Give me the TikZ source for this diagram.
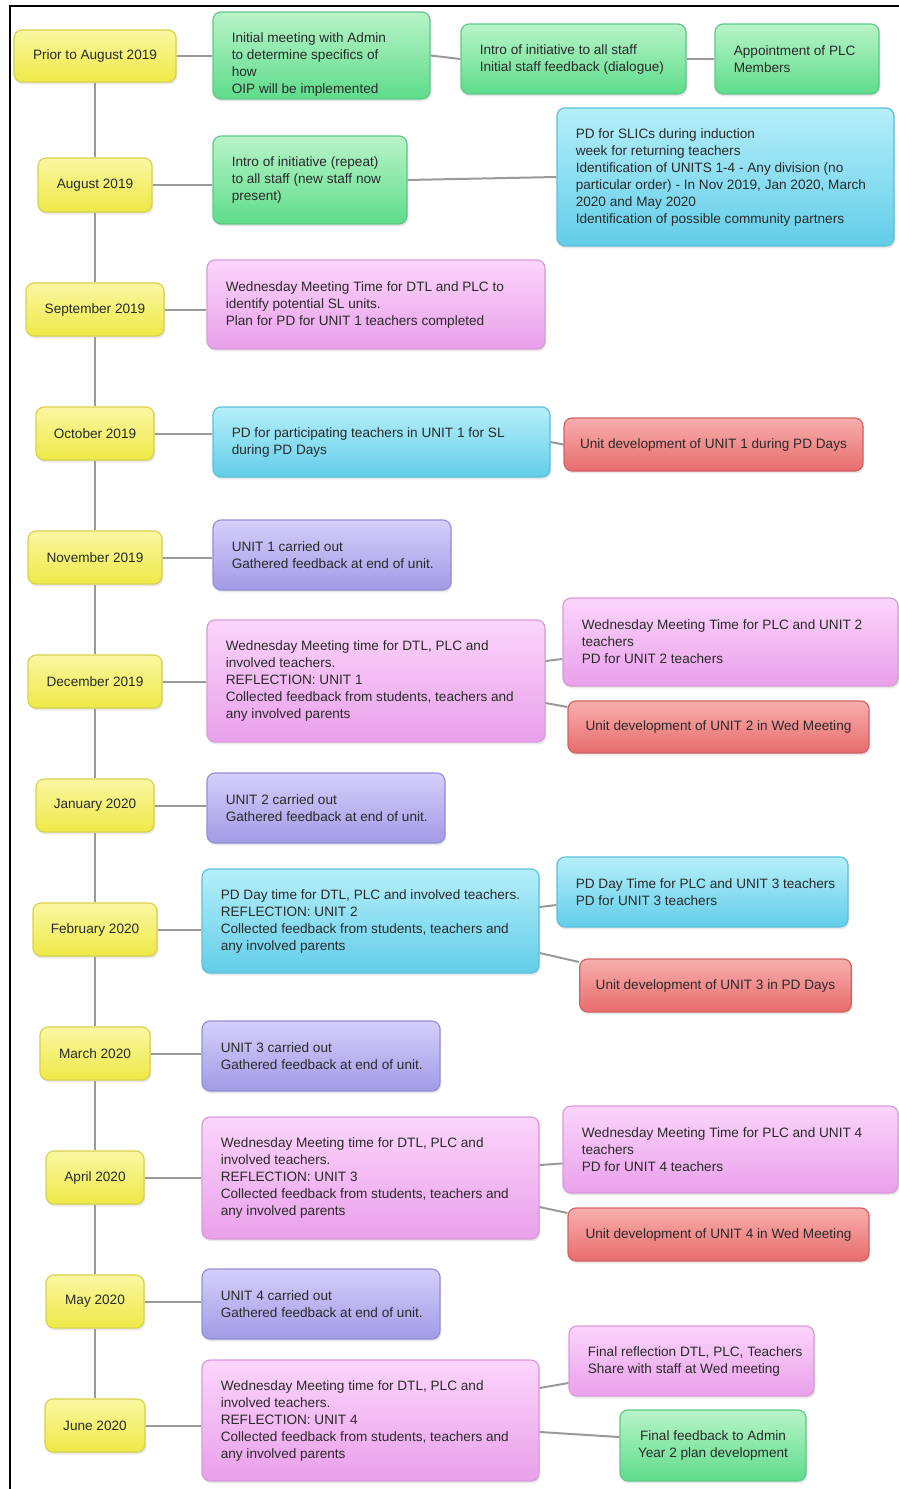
\documentclass[tikz,border=0pt]{standalone}
\usepackage{fontspec}
\setmainfont{Liberation Sans}
\usetikzlibrary{shadows}
\definecolor{txt}{HTML}{2A2A2A}
\definecolor{conncol}{HTML}{9A9A9A}
\definecolor{yT}{HTML}{FAF7A2}\definecolor{yB}{HTML}{EEE946}\definecolor{yD}{HTML}{D8D14A}
\definecolor{gT}{HTML}{B8F4C8}\definecolor{gB}{HTML}{5EDC8B}\definecolor{gD}{HTML}{5FC887}
\definecolor{bT}{HTML}{B6EFFA}\definecolor{bB}{HTML}{62CDE8}\definecolor{bD}{HTML}{5BC0DB}
\definecolor{pT}{HTML}{FBD5FB}\definecolor{pB}{HTML}{E9A0EA}\definecolor{pD}{HTML}{D79AD9}
\definecolor{vT}{HTML}{D4D0FA}\definecolor{vB}{HTML}{A29AE6}\definecolor{vD}{HTML}{948ED6}
\definecolor{rT}{HTML}{F8AEAE}\definecolor{rB}{HTML}{E86C6C}\definecolor{rD}{HTML}{D26262}
% box with left-aligned text at a fixed left margin (#8 = vertical text shift)
\newcommand\mkbox[8][0pt]{%
  \pgfmathsetmacro\bxX{(#4+#6)/2}%
  \pgfmathsetmacro\bxY{(#5+#7)/2}%
  \pgfmathsetmacro\bxW{(#6-#4)*0.5}%
  \pgfmathsetmacro\bxH{(#7-#5)*0.5}%
  \node[#2, minimum width=\bxW pt, minimum height=\bxH pt] (#3) at (\bxX,\bxY) {};
  \node[boxtext, anchor=west] (#3t) at ([xshift=9.5pt, yshift=#1]#3.west) {#8};}
% box with centred text
\newcommand\mkcbox[7]{%
  \pgfmathsetmacro\bxX{(#3+#5)/2}%
  \pgfmathsetmacro\bxY{(#4+#6)/2}%
  \pgfmathsetmacro\bxW{(#5-#3)*0.5}%
  \pgfmathsetmacro\bxH{(#6-#4)*0.5}%
  \node[#1, boxtext, align=center, inner xsep=8pt, minimum width=\bxW pt, minimum height=\bxH pt] (#2) at (\bxX,\bxY) {#7};}
\tikzset{
  boxtext/.style={inner sep=0pt, font=\fontsize{6.8}{8.5}\selectfont, text=txt, align=left},
  base/.style={rounded corners=4pt, line width=0.6pt, inner sep=0pt,
    drop shadow={opacity=0.18, shadow xshift=0.6pt, shadow yshift=-1.2pt}},
  datebox/.style={base, top color=yT, bottom color=yB, draw=yD},
  greenbox/.style={base, top color=gT, bottom color=gB, draw=gD},
  bluebox/.style={base, top color=bT, bottom color=bB, draw=bD},
  pinkbox/.style={base, top color=pT, bottom color=pB, draw=pD},
  violetbox/.style={base, top color=vT, bottom color=vB, draw=vD},
  redbox/.style={base, top color=rT, bottom color=rB, draw=rD},
  conn/.style={draw=conncol, line width=1pt},
  frameline/.style={draw=black, line width=1.2pt}
}
\begin{document}
\begin{tikzpicture}[x=0.5pt, y=-0.5pt]
\useasboundingbox (0,0) rectangle (899,1489);
\draw[frameline] (10,1489) coordinate (fa) -- (10,6) coordinate (fb) -- (899,6) coordinate (fc);

% date boxes
\mkcbox{datebox}{d1}{14}{30}{176}{82}{Prior to August 2019}
\mkcbox{datebox}{d2}{38}{158}{152}{212}{August 2019}
\mkcbox{datebox}{d3}{26}{283}{164}{336}{September 2019}
\mkcbox{datebox}{d4}{36}{407}{154}{460}{October 2019}
\mkcbox{datebox}{d5}{28}{531}{162}{584}{November 2019}
\mkcbox{datebox}{d6}{28}{655}{162}{708}{December 2019}
\mkcbox{datebox}{d7}{36}{779}{154}{832}{January 2020}
\mkcbox{datebox}{d8}{33}{903}{157}{956}{February 2020}
\mkcbox{datebox}{d9}{40}{1027}{150}{1080}{March 2020}
\mkcbox{datebox}{d10}{46}{1151}{144}{1204}{April 2020}
\mkcbox{datebox}{d11}{46}{1275}{144}{1328}{May 2020}
\mkcbox{datebox}{d12}{45}{1399}{145}{1452}{June 2020}

% row 1
\mkbox[-4.5pt]{greenbox}{m1}{213}{12}{430}{99}{Initial meeting with Admin\\to determine specifics of\\how\\OIP will be implemented}
\mkbox{greenbox}{m1b}{461}{24}{686}{94}{Intro of initiative to all staff\\Initial staff feedback (dialogue)}
\mkbox{greenbox}{m1c}{715}{24}{879}{94}{Appointment of PLC\\Members}
% row 2
\mkbox{greenbox}{m2}{213}{136}{407}{224}{Intro of initiative (repeat)\\to all staff (new staff now\\present)}
\mkbox{bluebox}{b2}{557}{108}{894}{246}{PD for SLICs during induction\\week for returning teachers\\Identification of UNITS 1-4 - Any division (no\\particular order) - In Nov 2019, Jan 2020, March\\2020 and May 2020\\Identification of possible community partners}
% row 3
\mkbox{pinkbox}{m3}{207}{260}{545}{349}{Wednesday Meeting Time for DTL and PLC to\\identify potential SL units.\\Plan for PD for UNIT 1 teachers completed}
% row 4
\mkbox{bluebox}{m4}{213}{407}{550}{477}{PD for participating teachers in UNIT 1 for SL\\during PD Days}
\mkcbox{redbox}{r4}{565}{418}{862}{471}{Unit development of UNIT 1 during PD Days}
% row 5
\mkbox{violetbox}{m5}{213}{520}{451}{590}{UNIT 1 carried out\\Gathered feedback at end of unit.}
% row 6
\mkbox{pinkbox}{m6}{207}{620}{545}{742}{Wednesday Meeting time for DTL, PLC and\\involved teachers.\\REFLECTION: UNIT 1\\Collected feedback from students, teachers and\\any involved parents}
\mkbox{pinkbox}{u6}{563}{598}{898}{686}{Wednesday Meeting Time for PLC and UNIT 2\\teachers\\PD for UNIT 2 teachers}
\mkcbox{redbox}{r6}{568}{701}{869}{753}{Unit development of UNIT 2 in Wed Meeting}
% row 7
\mkbox{violetbox}{m7}{207}{773}{445}{843}{UNIT 2 carried out\\Gathered feedback at end of unit.}
% row 8
\mkbox{bluebox}{m8}{202}{869}{539}{973}{PD Day time for DTL, PLC and involved teachers.\\REFLECTION: UNIT 2\\Collected feedback from students, teachers and\\any involved parents}
\mkbox{bluebox}{u8}{557}{857}{848}{927}{PD Day Time for PLC and UNIT 3 teachers\\PD for UNIT 3 teachers}
\mkcbox{redbox}{r8}{580}{959}{851}{1012}{Unit development of UNIT 3 in PD Days}
% row 9
\mkbox{violetbox}{m9}{202}{1021}{440}{1091}{UNIT 3 carried out\\Gathered feedback at end of unit.}
% row 10
\mkbox{pinkbox}{m10}{202}{1117}{539}{1239}{Wednesday Meeting time for DTL, PLC and\\involved teachers.\\REFLECTION: UNIT 3\\Collected feedback from students, teachers and\\any involved parents}
\mkbox{pinkbox}{u10}{563}{1106}{898}{1193}{Wednesday Meeting Time for PLC and UNIT 4\\teachers\\PD for UNIT 4 teachers}
\mkcbox{redbox}{r10}{568}{1208}{869}{1261}{Unit development of UNIT 4 in Wed Meeting}
% row 11
\mkbox{violetbox}{m11}{202}{1269}{440}{1339}{UNIT 4 carried out\\Gathered feedback at end of unit.}
% row 12
\mkbox{pinkbox}{m12}{202}{1360}{539}{1481}{Wednesday Meeting time for DTL, PLC and\\involved teachers.\\REFLECTION: UNIT 4\\Collected feedback from students, teachers and\\any involved parents}
\mkbox{pinkbox}{u12}{569}{1326}{814}{1396}{Final reflection DTL, PLC, Teachers\\Share with staff at Wed meeting}
\mkcbox{greenbox}{g12}{620}{1410}{806}{1481}{Final feedback to Admin\\Year 2 plan development}

% connectors
\foreach \a/\b in {d1/d2,d2/d3,d3/d4,d4/d5,d5/d6,d6/d7,d7/d8,d8/d9,d9/d10,d10/d11,d11/d12}
  \draw[conn] (\a.south) -- (\b.north);
\foreach \i in {1,...,12}
  \draw[conn] (d\i.east) -- (d\i.east -| m\i.west);
\draw[conn] (m1.east) -- (m1b.west);
\draw[conn] (m1b.east) -- (m1c.west);
\draw[conn] (m2.east) -- (b2.west);
\draw[conn] (m4.east) -- (r4.west);
\draw[conn] ([yshift=10pt]m6.east) -- ([yshift=-8.5pt]u6.west);
\draw[conn] ([yshift=-11pt]m6.east) -- ([yshift=10pt]r6.west);
\draw[conn] ([yshift=7pt]m8.east) -- ([yshift=-6.5pt]u8.west);
\draw[conn] ([yshift=-16pt]m8.east) -- ([yshift=11.75pt]r8.west);
\draw[conn] ([yshift=6.5pt]m10.east) -- ([yshift=-7pt]u10.west);
\draw[conn] ([yshift=-14.5pt]m10.east) -- ([yshift=10.75pt]r10.west);
\draw[conn] ([yshift=16.25pt]m12.east) -- ([yshift=-11pt]u12.west);
\draw[conn] ([yshift=-5.75pt]m12.east) -- ([yshift=4.25pt]g12.west);
\end{tikzpicture}
\end{document}
